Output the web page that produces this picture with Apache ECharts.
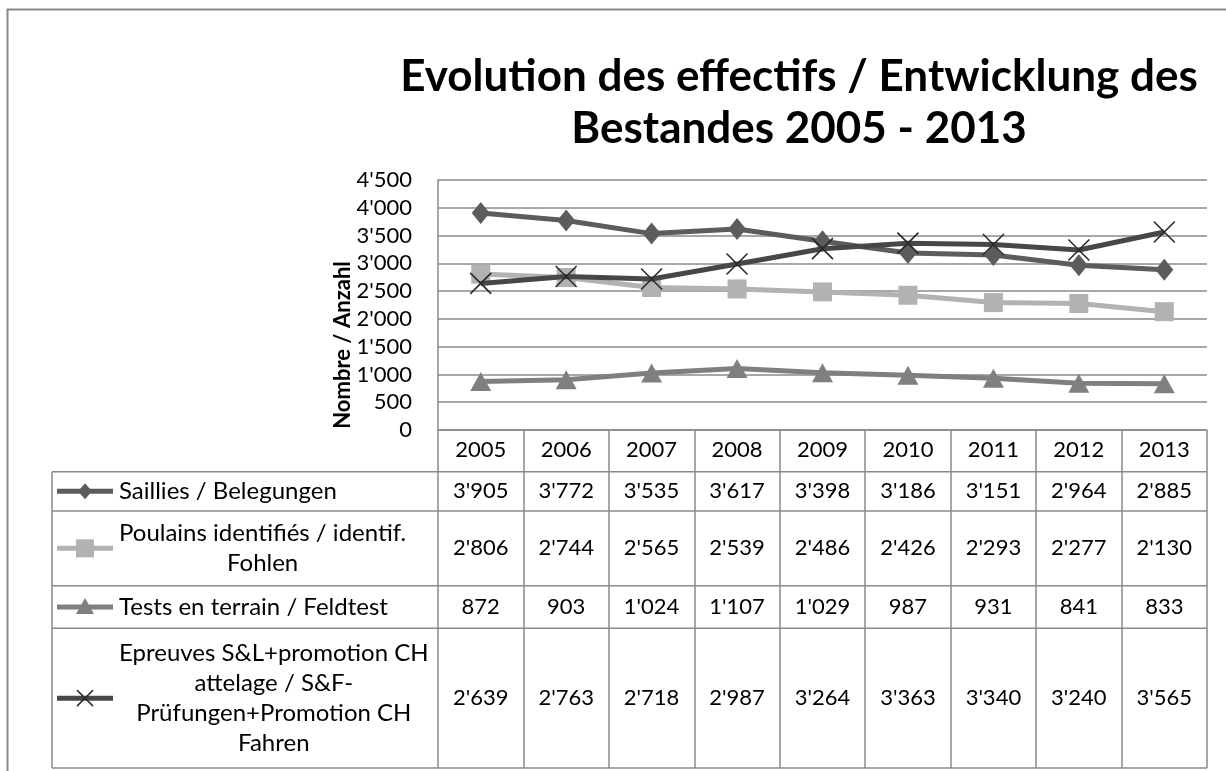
<!DOCTYPE html>
<html>
<head>
<meta charset="utf-8">
<script src="https://cdn.jsdelivr.net/npm/echarts@6/dist/echarts.min.js"></script>
<style>
html,body{margin:0;padding:0;background:#fff;}
#chart{width:1226px;height:771px;}
</style>
</head>
<body>
<div id="chart"></div>
<script>
// ---- data ----
var years = ['2005','2006','2007','2008','2009','2010','2011','2012','2013'];
var saillies = [3905,3772,3535,3617,3398,3186,3151,2964,2885];
var poulains = [2806,2744,2565,2539,2486,2426,2293,2277,2130];
var tests = [872,903,1024,1107,1029,987,931,841,833];
var epreuves = [2639,2763,2718,2987,3264,3363,3340,3240,3565];
var seriesNames = [
  'Saillies / Belegungen',
  'Poulains identifiés / identif.\nFohlen',
  'Tests en terrain / Feldtest',
  'Epreuves S&L+promotion CH\nattelage / S&F-\nPrüfungen+Promotion CH\nFahren'
];
var yTicks = [0,500,1000,1500,2000,2500,3000,3500,4000,4500];
var titleText = 'Evolution des effectifs / Entwicklung des\nBestandes 2005 - 2013';
var yAxisTitle = 'Nombre / Anzahl';

// ---- styles ----
var FONT = 'Lato, "Open Sans", sans-serif';
var FS = 22;
var LFS = 24;
var GRID = '#8a8a8a';
var colors = ['#5c5c5c', '#b2b2b2', '#7f7f7f', '#474747'];
var xPath = 'path://M0,0L10,10M10,0L0,10';

function fmt(v){
  var s = String(v);
  if (s.length > 3) s = s.slice(0, s.length-3) + "'" + s.slice(s.length-3);
  return s;
}

var measureCtx = document.createElement('canvas').getContext('2d');
function textWidth(t, font){
  measureCtx.font = font;
  return Math.max.apply(null, t.split('\n').map(function(l){ return measureCtx.measureText(l).width; }));
}

var chart = echarts.init(document.getElementById('chart'));

var values = [saillies, poulains, tests, epreuves];
var symbols = ['diamond', 'rect', 'triangle', xPath];
var symSizes = [[18,22],[19,19],[21,19],[21,21]];

var series = values.map(function(arr, i){
  var isX = i === 3;
  return {
    name: seriesNames[i],
    type: 'line',
    data: arr,
    symbol: symbols[i],
    symbolSize: symSizes[i],
    showSymbol: true,
    lineStyle: {color: colors[i], width: 5},
    itemStyle: isX ? {color: 'none', borderColor: '#2a2a2a', borderWidth: 1.6}
                   : {color: colors[i], borderWidth: 0},
    emphasis: {disabled: true},
    z: 2 + i
  };
});

chart.setOption({
  animation: false,
  title: {
    text: titleText,
    left: 794,
    top: 46,
    textAlign: 'center',
    textStyle: {fontFamily: FONT, fontSize: 44, fontWeight: 'bold', color: '#000', lineHeight: 52}
  },
  grid: {left: 438, right: 19, top: 180, bottom: 341, containLabel: false},
  xAxis: {
    type: 'category',
    data: years,
    boundaryGap: true,
    axisLine: {show: true, lineStyle: {color: GRID, width: 1.5}},
    axisTick: {show: true, interval: 0, length: 338, lineStyle: {color: GRID, width: 1.5}},
    axisLabel: {margin: 9, fontFamily: FONT, fontSize: FS, color: '#000', interval: 0}
  },
  yAxis: {
    type: 'value',
    min: 0, max: 4500, interval: 500,
    axisLine: {show: true, lineStyle: {color: GRID, width: 1.5}},
    axisTick: {show: false},
    splitLine: {show: true, lineStyle: {color: GRID, width: 1.5}},
    axisLabel: {
      margin: 26, fontFamily: FONT, fontSize: FS, color: '#000',
      customValues: yTicks,
      formatter: function(v){ return fmt(v); }
    }
  },
  series: series
});

// ---- data table (graphic) ----
var tableLeft = 52, tableRight = 1207;
var rowLines = [471.7, 511, 585.7, 628.3, 768];
var g = [];

// outer frame (left and top)
g.push({type:'polyline', shape:{points:[[7.5,771],[7.5,9.5],[1226,9.5]]},
  style:{stroke:GRID, lineWidth:2, fill:null}, silent:true});

rowLines.forEach(function(y){
  g.push({type:'line', shape:{x1:tableLeft, y1:y, x2:tableRight, y2:y},
    style:{stroke:GRID, lineWidth:1.5}, silent:true});
});
g.push({type:'line', shape:{x1:tableLeft, y1:rowLines[0], x2:tableLeft, y2:rowLines[rowLines.length-1]},
  style:{stroke:GRID, lineWidth:1.5}, silent:true});

// y axis title
g.push({type:'text', x:343, y:345, rotation:Math.PI/2,
  style:{text:yAxisTitle, fontFamily:FONT, fontSize:FS, fontWeight:'bold', fill:'#000',
    align:'center', verticalAlign:'middle'}, silent:true});

var textLeft = 119;
var legendFont = LFS + 'px Lato';
values.forEach(function(arr, i){
  var yc = (rowLines[i] + rowLines[i+1]) / 2;
  var c = colors[i];
  // legend key line
  g.push({type:'line', shape:{x1:57, y1:yc, x2:113, y2:yc},
    style:{stroke:c, lineWidth:5}, silent:true});
  var mx = 85;
  if (i === 0) {
    g.push({type:'polygon', shape:{points:[[mx,yc-8],[mx+7,yc],[mx,yc+8],[mx-7,yc]]}, style:{fill:c}, silent:true});
  } else if (i === 1) {
    g.push({type:'rect', shape:{x:mx-9, y:yc-9, width:18, height:18}, style:{fill:c}, silent:true});
  } else if (i === 2) {
    g.push({type:'polygon', shape:{points:[[mx,yc-9],[mx+9,yc+7],[mx-9,yc+7]]}, style:{fill:c}, silent:true});
  } else {
    g.push({type:'line', shape:{x1:mx-8,y1:yc-8,x2:mx+8,y2:yc+8}, style:{stroke:'#2a2a2a', lineWidth:1.5}, silent:true});
    g.push({type:'line', shape:{x1:mx-8,y1:yc+8,x2:mx+8,y2:yc-8}, style:{stroke:'#2a2a2a', lineWidth:1.5}, silent:true});
  }
  // legend text
  var name = seriesNames[i];
  if (name.indexOf('\n') < 0) {
    g.push({type:'text', x:textLeft, y:yc, style:{text:name, fontFamily:FONT, fontSize:LFS, fill:'#000',
      align:'left', verticalAlign:'middle'}, silent:true});
  } else {
    var w = textWidth(name, legendFont);
    g.push({type:'text', x:textLeft + w/2, y:yc, style:{text:name, fontFamily:FONT, fontSize:LFS, fill:'#000',
      align:'center', verticalAlign:'middle', lineHeight:30}, silent:true});
  }
  // values
  arr.forEach(function(v, j){
    var x = chart.convertToPixel({xAxisIndex:0}, years[j]);
    g.push({type:'text', x:x, y:yc, style:{text:fmt(v), fontFamily:FONT, fontSize:FS, fill:'#000',
      align:'center', verticalAlign:'middle'}, silent:true});
  });
});

chart.setOption({graphic: {elements: g}});
</script>
</body>
</html>
